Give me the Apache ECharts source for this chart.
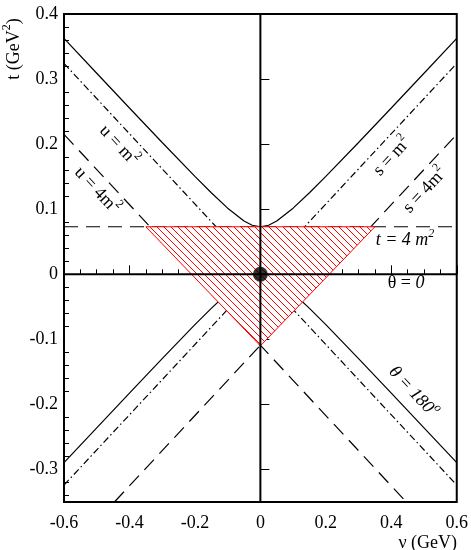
<!DOCTYPE html>
<html><head><meta charset="utf-8">
<script src="https://cdn.jsdelivr.net/npm/echarts@6/dist/echarts.min.js"></script>
<style>html,body{margin:0;padding:0;background:#fff}#c{width:471px;height:550px}</style>
</head><body><div id="c"></div>
<script>
// ---- data ----
const nuTicks = [-0.6, -0.4, -0.2, 0, 0.2, 0.4, 0.6];
const tTicks = [-0.3, -0.2, -0.1, 0, 0.1, 0.2, 0.3, 0.4];
const tMinorTicks = [-0.34, -0.32, -0.28, -0.26, -0.24, -0.22, -0.18, -0.16, -0.14, -0.12,
  -0.08, -0.06, -0.04, -0.02, 0.02, 0.04, 0.06, 0.08, 0.12, 0.14, 0.16, 0.18,
  0.22, 0.24, 0.26, 0.28, 0.32, 0.34, 0.36, 0.38];
const hyperNu = [-0.6, -0.5, -0.4, -0.3, -0.2, -0.15, -0.1, -0.05, -0.025, 0, 0.025, 0.05, 0.1, 0.15, 0.2, 0.3, 0.4, 0.5, 0.6];
const hyperUpperT = [0.3625, 0.3089, 0.2555, 0.2025, 0.1504, 0.1253, 0.1016, 0.0818, 0.0753, 0.0729, 0.0753, 0.0818, 0.1016, 0.1253, 0.1504, 0.2025, 0.2555, 0.3089, 0.3625];
const hyperLowerT = [-0.2896, -0.2360, -0.1826, -0.1296, -0.0775, -0.0524, -0.0287, -0.0089, -0.0024, 0, -0.0024, -0.0089, -0.0287, -0.0524, -0.0775, -0.1296, -0.1826, -0.2360, -0.2896];
const sM2Line = [[-0.6, -0.324], [0.6, 0.324]];
const uM2Line = [[-0.6, 0.324], [0.6, -0.324]];
const s4M2Line = [[-0.446, -0.35], [0.6, 0.215]];
const u4M2Line = [[-0.6, 0.215], [0.446, -0.35]];
const t4M2Line = [[-0.6, 0.073], [0.6, 0.073]];
const thetaZeroLine = [[-0.6, 0], [0.6, 0]];
const nuZeroLine = [[0, -0.35], [0, 0.4]];
const triangle = [[-0.35, 0.073], [0.35, 0.073], [0, -0.11]];
const origin = [[0, 0]];
const annText = ['{b|u = m}{s|2}', '{b|u = 4m}{s|2}', '{b|s = m}{s|2}', '{b|s = 4m}{s|2}', '{b|t = 4 m}{s|2}', '{b|θ = }{i|0}', '{b|θ = 180}{s|o}'];
const annNu = [-0.433, -0.500, 0.403, 0.503, 0.442, 0.445, 0.467];
const annT = [0.198, 0.129, 0.181, 0.129, 0.052, -0.014, -0.181];

// ---- rendering ----
const FONT = 'Liberation Serif';
const ang = 47 * Math.PI / 180;
const annRot = [-ang, -ang, ang, ang, 0, 0, -ang];
const annItalic = [false, false, false, false, true, false, true];

const pc = document.createElement('canvas');
pc.width = 7; pc.height = 7;
const g = pc.getContext('2d');
g.fillStyle = '#fff'; g.fillRect(0, 0, 7, 7);
g.strokeStyle = '#ff0000'; g.lineWidth = 1;
g.beginPath();
g.moveTo(-1, -1); g.lineTo(8, 8);
g.moveTo(-1, 6); g.lineTo(1, 8);
g.moveTo(6, -1); g.lineTo(8, 1);
g.stroke();

const zip = (xs, ys) => xs.map((x, i) => [x, ys[i]]);
const lineSeries = (data, type, width, z) => ({
  type: 'line', data, symbol: 'none', silent: true, animation: false, z: z || 2,
  lineStyle: { color: '#000', width: width || 1.2, type: type || 'solid' }
});
const richFor = (italic) => {
  const fs = italic ? 'italic' : 'normal';
  return {
    b: { fontFamily: FONT, fontSize: 18, fontStyle: fs, lineHeight: 26, verticalAlign: 'middle', fill: '#000' },
    i: { fontFamily: FONT, fontSize: 18, fontStyle: 'italic', lineHeight: 26, verticalAlign: 'middle', fill: '#000' },
    s: { fontFamily: FONT, fontSize: 12, fontStyle: fs, lineHeight: 12, verticalAlign: 'top', fill: '#000' }
  };
};
const fmt = v => { const r = Math.round(v * 10) / 10; return r === 0 ? '0' : String(r); };

const chart = echarts.init(document.getElementById('c'), null, { renderer: 'canvas' });
chart.setOption({
  animation: false,
  backgroundColor: '#fff',
  grid: { left: 64, right: 14, top: 14, bottom: 48, show: true, borderColor: '#000', borderWidth: 2, backgroundColor: 'transparent' },
  xAxis: {
    type: 'value', min: -0.6, max: 0.6, interval: 0.2,
    axisLine: { show: false },
    axisTick: { show: true, inside: true, length: 9, lineStyle: { color: '#000', width: 1 } },
    minorTick: { show: true, splitNumber: 4, length: 5, lineStyle: { color: '#000', width: 1 } },
    splitLine: { show: false }, minorSplitLine: { show: false },
    axisLabel: { color: '#000', fontFamily: FONT, fontSize: 18, margin: 12, formatter: fmt }
  },
  yAxis: [{
    type: 'value', min: -0.35, max: 0.4,
    axisLine: { show: false },
    axisTick: { show: true, inside: true, length: 9, customValues: tTicks, lineStyle: { color: '#000', width: 1 } },
    splitLine: { show: false },
    axisLabel: { color: '#000', fontFamily: FONT, fontSize: 18, margin: 6, customValues: tTicks, formatter: fmt }
  }, {
    type: 'value', min: -0.35, max: 0.4, position: 'left',
    axisLine: { show: false },
    axisTick: { show: true, inside: true, length: 5, customValues: tMinorTicks, lineStyle: { color: '#000', width: 1 } },
    splitLine: { show: false },
    axisLabel: { show: false, customValues: tMinorTicks }
  }],
  graphic: [
    { type: 'text', x: 14, y: 49, rotation: Math.PI / 2,
      style: { text: '{b|t (GeV}{s|2}{b|)}', rich: richFor(false), textAlign: 'center', textVerticalAlign: 'middle' } },
    { type: 'text', x: 457, y: 543,
      style: { text: 'ν (GeV)', font: '18px ' + FONT, fill: '#000', textAlign: 'right', textVerticalAlign: 'middle' } }
  ],
  series: [
    lineSeries(zip(hyperNu, hyperUpperT), 'solid', 1.2),
    lineSeries(zip(hyperNu, hyperLowerT), 'solid', 1.2),
    lineSeries(sM2Line, [7, 3, 1.5, 3], 1.2),
    lineSeries(uM2Line, [7, 3, 1.5, 3], 1.2),
    lineSeries(s4M2Line, [14, 8], 1.2),
    lineSeries(u4M2Line, [14, 8], 1.2),
    lineSeries(t4M2Line, [14, 8], 1.2),
    {
      type: 'custom', silent: true, animation: false, z: 5,
      data: triangle,
      renderItem: (params, api) => {
        if (params.dataIndex !== 0) return null;
        const pts = triangle.map(p => api.coord(p));
        return { type: 'polygon', shape: { points: pts },
          style: { fill: { image: pc, repeat: 'repeat' }, stroke: '#ff0000', lineWidth: 1 } };
      }
    },
    lineSeries(thetaZeroLine, 'solid', 2, 8),
    lineSeries(nuZeroLine, 'solid', 2, 8),
    { type: 'scatter', data: origin, symbol: 'circle', symbolSize: 15, silent: true, z: 9,
      itemStyle: { color: '#000' }, animation: false },
    {
      type: 'custom', silent: true, animation: false, z: 10,
      data: annText.map((t, i) => [annNu[i], annT[i]]),
      renderItem: (params, api) => {
        const i = params.dataIndex;
        const p = api.coord([annNu[i], annT[i]]);
        return { type: 'text', x: p[0], y: p[1], rotation: annRot[i],
          style: { text: annText[i], rich: richFor(annItalic[i]), textAlign: 'center', textVerticalAlign: 'middle' } };
      }
    }
  ]
});
</script>
</body></html>
